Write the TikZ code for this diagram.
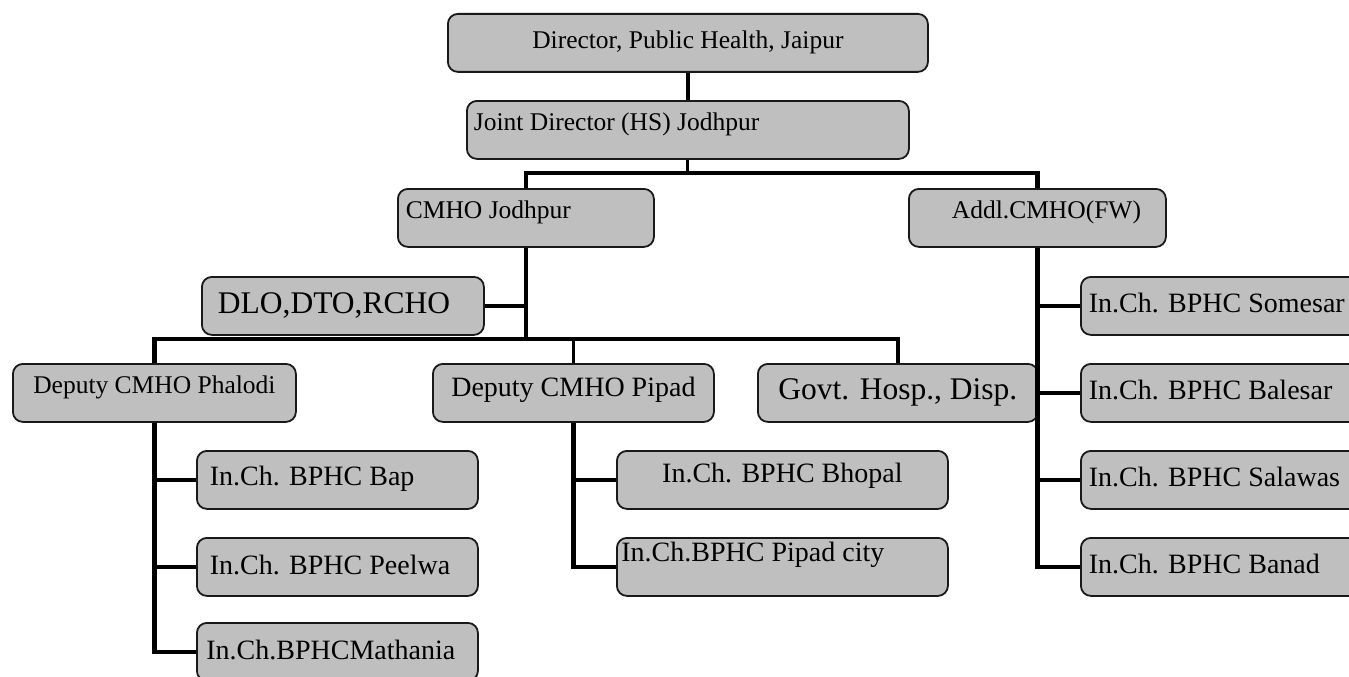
\documentclass[tikz,border=0pt]{standalone}
\usepackage{fontspec}
\setmainfont{Liberation Serif}
\newcommand{\bxtxt}[3]{\makebox[#1pt][l]{\raisebox{#2pt}[\height][\depth]{#3}}}
\newcommand{\ctxt}[2]{\raisebox{#1pt}[\height][\depth]{#2}}
\tikzset{
  box/.style={draw=black!90, line width=1.8pt, rounded corners=10pt, fill=black!25,
    minimum height=58pt, inner sep=0pt, anchor=north west},
  fa/.style={font=\fontsize{25.5pt}{30pt}\selectfont},
  fb/.style={font=\fontsize{28pt}{32pt}\selectfont},
  fc/.style={font=\fontsize{31.5pt}{36pt}\selectfont},
  conn/.style={line width=4.8pt},
  thinconn/.style={line width=3pt}
}
\begin{document}
\begin{tikzpicture}[x=1pt,y=-1pt]
\useasboundingbox (0,0) rectangle (1349,677);
\clip (0,0) rectangle (1349,677);
% boxes
\node[box, minimum width=480pt, fa] (dir) at (447,13) {\ctxt{1}{Director, Public Health, Jaipur}};
\node[box, minimum width=442pt, fa] (jd) at (466,100) {\bxtxt{428}{6}{Joint Director (HS) Jodhpur}};
\node[box, minimum width=256pt, fa] (cmho) at (397,188) {\bxtxt{240}{6}{CMHO Jodhpur}};
\node[box, minimum width=257pt, fa] (addl) at (908,188) {\bxtxt{171}{6}{Addl.CMHO(FW)}};
\node[box, minimum width=282pt, fc] (dlo) at (201,276) {\bxtxt{250}{0}{DLO,DTO,RCHO}};
\node[box, minimum width=283pt, fa] (phal) at (12,363) {\ctxt{5}{Deputy CMHO Phalodi}};
\node[box, minimum width=281pt, fb] (pipad) at (432,363) {\ctxt{3}{Deputy CMHO Pipad}};
\node[box, minimum width=280pt, fc] (govt) at (757,363) {\ctxt{0}{Govt. Hosp., Disp.}};
\node[box, minimum width=300pt, fb] (some) at (1080,276) {\bxtxt{284}{3}{In.Ch. BPHC Somesar}};
\node[box, minimum width=300pt, fb] (bale) at (1080,363) {\bxtxt{284}{3}{In.Ch. BPHC Balesar}};
\node[box, minimum width=300pt, fb] (sala) at (1080,450) {\bxtxt{284}{3}{In.Ch. BPHC Salawas}};
\node[box, minimum width=300pt, fb] (bana) at (1080,537) {\bxtxt{284}{3}{In.Ch. BPHC Banad}};
\node[box, minimum width=281pt, fb] (bap) at (196,450) {\bxtxt{255}{1}{In.Ch. BPHC Bap}};
\node[box, minimum width=281pt, fb] (peel) at (196,537) {\bxtxt{255}{2}{In.Ch. BPHC Peelwa}};
\node[box, minimum width=281pt, fb] (math) at (196,622) {\bxtxt{262}{2}{In.Ch.BPHCMathania}};
\node[box, minimum width=331pt, fb] (bhop) at (616,450) {\ctxt{4}{In.Ch. BPHC Bhopal}};
\node[box, minimum width=331pt, fb] (pcity) at (616,537) {\bxtxt{322}{12}{In.Ch.BPHC Pipad city}};
% connectors
\coordinate (b1) at (0,173);
\coordinate (b2) at (0,339);
\draw[conn] (jd.north) -- (jd.north |- dir.south);
\draw[thinconn] (jd.south) -- (jd.south |- b1);
\draw[conn] (cmho.north) -- (cmho.north |- b1) -- (addl.north |- b1) -- (addl.north);
\draw[conn] (cmho.south) -- (cmho.south |- b2);
\draw[conn] (dlo.east) -- (dlo.east -| cmho.south);
\draw[conn] (phal.north) -- (phal.north |- b2) -- (govt.north |- b2) -- (govt.north);
\draw[thinconn] (pipad.north) -- (pipad.north |- b2);
\draw[conn] (phal.south) |- (bap.west);
\draw[conn] (phal.south) |- (peel.west);
\draw[conn] (phal.south) |- (math.west);
\draw[conn] (pipad.south) |- (bhop.west);
\draw[conn] (pipad.south) |- (pcity.west);
\draw[conn] (addl.south) |- (some.west);
\draw[conn] (addl.south) |- (bale.west);
\draw[conn] (addl.south) |- (sala.west);
\draw[conn] (addl.south) |- (bana.west);
\end{tikzpicture}
\end{document}
